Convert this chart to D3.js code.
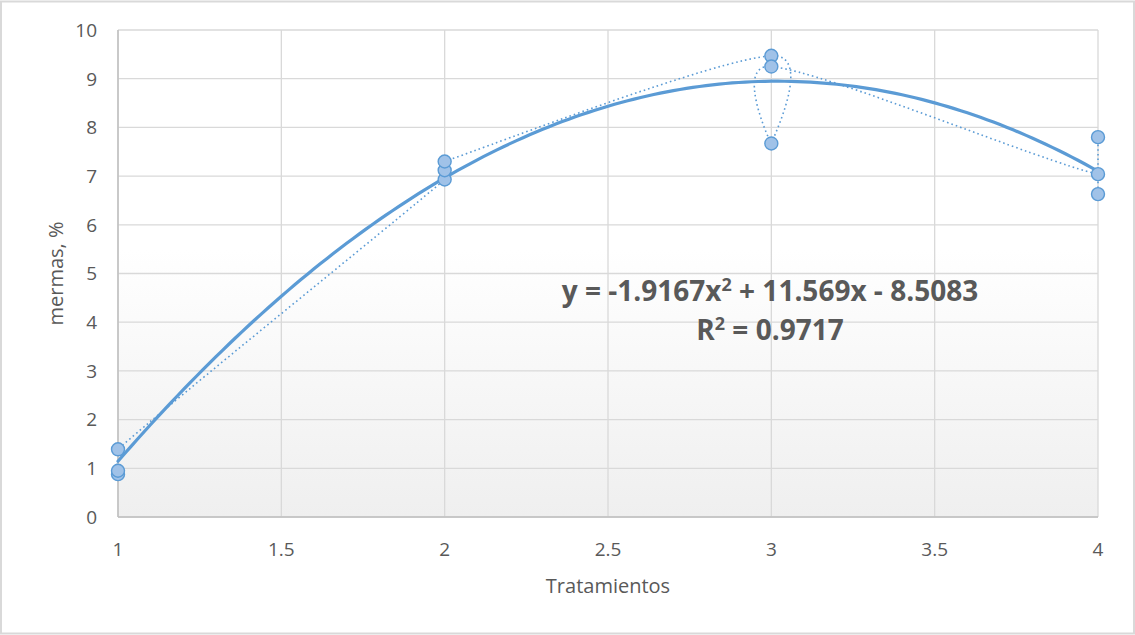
<!DOCTYPE html>
<html lang="es">
<head>
<meta charset="UTF-8" />
<title>Mermas por tratamiento</title>
<script src="https://d3js.org/d3.v7.min.js"></script>
<style>
  html, body { margin: 0; padding: 0; background: #fff; overflow: hidden; }
  svg { display: block; font-family: 'Open Sans', 'Liberation Sans', sans-serif; }
  .grid line { stroke: #d9d9d9; stroke-width: 1.3; }
  .tick-label { fill: #595959; font-size: 19px; }
  .axis-title { fill: #595959; font-size: 20px; }
  .eq { fill: #595959; font-size: 28px; font-weight: 700; }
</style>
</head>
<body>
<div id="chart"></div>
<script>
// observations, in the order they are plotted (Tratamientos, mermas %)
const tratamientos = [1, 1, 1, 2, 2, 2, 3, 3, 3, 4, 4, 4];
const mermas = [0.88, 0.95, 1.39, 6.93, 7.12, 7.30, 9.47, 7.67, 9.25, 7.04, 7.80, 6.63];

// polynomial trendline shown on the chart: a*x^2 + b*x + c
const trendCoef = [-1.9167, 11.569, -8.5083];
const trendLabel = ["y = -1.9167x", "2", " + 11.569x - 8.5083"];
const r2Label = "0.9717";

const xTicks = [1, 1.5, 2, 2.5, 3, 3.5, 4];
const yTicks = [0, 1, 2, 3, 4, 5, 6, 7, 8, 9, 10];

const W = 1135, H = 635;
const margin = { top: 30, right: 37, bottom: 118, left: 118 };

const svg = d3.select("#chart").append("svg")
  .attr("width", W).attr("height", H);

// chart border
svg.append("rect")
  .attr("x", 1).attr("y", 1.5).attr("width", W - 2).attr("height", H - 3)
  .attr("fill", "#fff").attr("stroke", "#d9d9d9").attr("stroke-width", 2);

const x = d3.scaleLinear().domain([1, 4]).range([margin.left, W - margin.right]);
const y = d3.scaleLinear().domain([0, 10]).range([H - margin.bottom, margin.top]);

const defs = svg.append("defs");
// plot area background gradient
const grad = defs.append("linearGradient")
  .attr("id", "bg").attr("x1", 0).attr("y1", 0).attr("x2", 0).attr("y2", 1);
grad.append("stop").attr("offset", "0%").attr("stop-color", "#ffffff");
grad.append("stop").attr("offset", "45%").attr("stop-color", "#ffffff");
grad.append("stop").attr("offset", "100%").attr("stop-color", "#efefef");

// clip for the connector, a little wider than the plot so edge strokes stay whole
defs.append("clipPath").attr("id", "plot-clip")
  .append("rect")
  .attr("x", x(1) - 2).attr("y", y(10) - 2)
  .attr("width", x(4) - x(1) + 4).attr("height", y(0) - y(10) + 4);

svg.append("rect")
  .attr("x", x(1)).attr("y", y(10))
  .attr("width", x(4) - x(1)).attr("height", y(0) - y(10))
  .attr("fill", "url(#bg)");

// gridlines
const grid = svg.append("g").attr("class", "grid");
grid.selectAll(".gx").data(xTicks).join("line")
  .attr("x1", d => x(d)).attr("x2", d => x(d))
  .attr("y1", y(0)).attr("y2", y(10));
grid.selectAll(".gy").data(yTicks).join("line")
  .attr("x1", x(1)).attr("x2", x(4))
  .attr("y1", d => y(d)).attr("y2", d => y(d));

// axis lines
svg.append("line").attr("x1", x(1)).attr("x2", x(1)).attr("y1", y(0)).attr("y2", y(10))
  .attr("stroke", "#bfbfbf").attr("stroke-width", 1.5);
svg.append("line").attr("x1", x(1)).attr("x2", x(4)).attr("y1", y(0)).attr("y2", y(0))
  .attr("stroke", "#bfbfbf").attr("stroke-width", 1.5);

// tick labels
svg.selectAll(".ylab").data(yTicks).join("text")
  .attr("class", "tick-label")
  .attr("x", x(1) - 21).attr("y", d => y(d))
  .attr("dy", "0.36em").attr("text-anchor", "end")
  .text(d => d);
svg.selectAll(".xlab").data(xTicks).join("text")
  .attr("class", "tick-label")
  .attr("x", d => x(d)).attr("y", y(0) + 39)
  .attr("text-anchor", "middle")
  .text(d => d);

// axis titles
svg.append("text").attr("class", "axis-title")
  .attr("x", (x(1) + x(4)) / 2).attr("y", y(0) + 76)
  .attr("text-anchor", "middle").text("Tratamientos");
svg.append("text").attr("class", "axis-title")
  .attr("transform", `translate(${56},${(y(0) + y(10)) / 2}) rotate(-90)`)
  .attr("dy", "0.35em")
  .attr("text-anchor", "middle").text("mermas, %");

const pts = tratamientos.map((t, i) => [t, mermas[i]]);

// spreadsheet-style smoothed line: cubic Bezier with tangents (P[i+1]-P[i-1])/6,
// each handle limited to half of its segment so stacked points do not loop
function smoothPath(p) {
  const n = p.length;
  const tan = p.map((_, i) => {
    const a = p[Math.max(i - 1, 0)], b = p[Math.min(i + 1, n - 1)];
    return [(b[0] - a[0]) / 6, (b[1] - a[1]) / 6];
  });
  const cap = (v, len) => {
    const m = Math.hypot(v[0], v[1]);
    return m > len && m > 0 ? [v[0] * len / m, v[1] * len / m] : v;
  };
  const path = d3.path();
  path.moveTo(p[0][0], p[0][1]);
  for (let i = 0; i < n - 1; i++) {
    const a = p[i], b = p[i + 1];
    const seg = Math.hypot(b[0] - a[0], b[1] - a[1]) / 2;
    const t1 = cap(tan[i], seg), t2 = cap(tan[i + 1], seg);
    path.bezierCurveTo(a[0] + t1[0], a[1] + t1[1], b[0] - t2[0], b[1] - t2[1], b[0], b[1]);
  }
  return path.toString();
}

// smoothed dotted connector
svg.append("path")
  .attr("clip-path", "url(#plot-clip)")
  .attr("fill", "none")
  .attr("stroke", "#5b9bd5")
  .attr("stroke-width", 1.6)
  .attr("stroke-dasharray", "1.6 3")
  .attr("d", smoothPath(pts.map(d => [x(d[0]), y(d[1])])));

// polynomial trendline
const trendX = d3.range(1, 4.0001, 0.02);
svg.append("path")
  .datum(trendX)
  .attr("fill", "none")
  .attr("stroke", "#5b9bd5")
  .attr("stroke-width", 3.2)
  .attr("stroke-linecap", "round")
  .attr("d", d3.line()
    .x(d => x(d))
    .y(d => y(trendCoef[0] * d * d + trendCoef[1] * d + trendCoef[2])));

// markers
svg.selectAll(".pt").data(pts).join("circle")
  .attr("cx", d => x(d[0])).attr("cy", d => y(d[1]))
  .attr("r", 6.5)
  .attr("fill", "#a0c2e8")
  .attr("stroke", "#5b9bd5")
  .attr("stroke-width", 1.4);

// trendline equation
const eq = svg.append("text").attr("class", "eq")
  .attr("x", 770).attr("y", 301).attr("text-anchor", "middle");
eq.append("tspan").text(trendLabel[0]);
eq.append("tspan").attr("dy", -10).attr("font-size", "18px").text(trendLabel[1]);
eq.append("tspan").attr("dy", 10).text(trendLabel[2]);

const r2 = svg.append("text").attr("class", "eq")
  .attr("x", 770).attr("y", 340).attr("text-anchor", "middle");
r2.append("tspan").text("R");
r2.append("tspan").attr("dy", -10).attr("font-size", "18px").text("2");
r2.append("tspan").attr("dy", 10).text(" = " + r2Label);
</script>
</body>
</html>
